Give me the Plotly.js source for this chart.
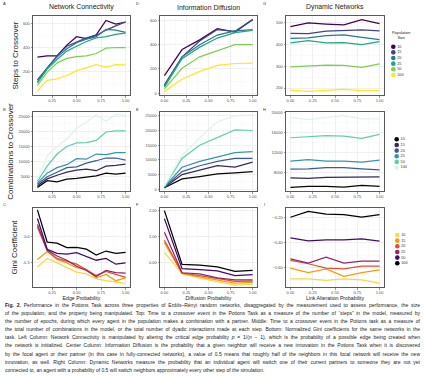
<!DOCTYPE html>
<html><head><meta charset="utf-8">
<script src="https://cdn.plot.ly/plotly-3.0.1.min.js"></script>
<style>
html,body{margin:0;padding:0;background:#fff;}
#chart{position:absolute;left:0;top:0;width:424px;height:377px;}
#caption{position:absolute;left:5px;top:301px;width:415px;font-family:"Liberation Sans",Arial,sans-serif;font-size:5px;line-height:8.1px;color:#222;}
#caption div{text-align:justify;text-align-last:justify;}
#caption div.last{text-align-last:left;}
</style></head><body>
<div id="chart"></div>
<div id="caption"></div>
<script>
// ---------- data ----------
const sizes = ['10','15','20','25','50','100'];
const edgeProb = [0.1,0.2,0.3,0.4,0.5,0.6,0.7,0.8,0.9,1.0];
const diffusionProb = [0,0.2,0.4,0.6,0.8,1.0];
const linkAlterProb = [0,0.2,0.4,0.6,0.8,1.0];

// Steps to crossover (rows: population size 10,15,20,25,50,100)
const stepsConnectivity = [
  [320,330,330,420,490,475,505,625,595,612],
  [130,235,330,410,445,480,500,545,580,612],
  [115,230,320,390,440,470,490,550,545,525],
  [105,220,300,370,410,450,480,490,510,520],
  [85,195,270,310,325,330,350,395,400,400],
  [38,126,140,167,208,236,258,236,258,255]
];
const stepsDiffusion = [
  [145,360,440,532,505,608],
  [68,300,430,525,510,605],
  [60,300,400,480,515,525],
  [50,285,380,455,500,518],
  [35,205,300,350,400,400],
  [15,115,180,230,245,248]
];
const stepsDynamic = [
  [483,500,495,491,515,497],
  [452,451,462,465,468,463],
  [429,431,442,445,434,423],
  [408,418,408,409,400,414],
  [298,303,306,305,295,311],
  [191,185,189,194,188,188]
];
// Combinations to crossover
const combosConnectivity = [
  [1500,3700,3300,4200,4500,5000,5300,6200,5900,6200],
  [2000,4300,5500,6500,7200,7500,7000,8500,8800,9200],
  [2500,5000,6500,8000,8300,9500,10300,11200,11200,10500],
  [3000,6200,8000,9000,11000,10800,12500,12300,13000,13000],
  [3500,8500,12500,15000,16200,16300,17000,19800,20200,20200],
  [4000,12000,15000,17500,21000,23000,25500,23300,25600,25300]
];
const combosDiffusion = [
  [500,3500,4300,5200,5600,6000],
  [600,5000,6500,8000,7500,9200],
  [700,6000,8000,9500,10500,10500],
  [800,7500,9500,11000,12500,12800],
  [900,10500,15000,17500,20200,20000],
  [1000,11500,17500,23000,25000,25200]
];
const combosDynamic = [
  [5070,5270,5270,5130,5470,5270],
  [6930,6870,7070,7130,7200,7130],
  [8670,8730,9000,9000,8730,8530],
  [10270,10600,10270,10270,10070,10470],
  [14930,15130,15330,15270,14800,15600],
  [19000,18530,19000,19330,18670,18670]
];
// Normalized Gini coefficient
const giniConnectivity = [
  [-0.585,-0.42,-0.505,-0.585,-0.68,-0.715,-0.81,-0.845,-0.875,-0.895],
  [-0.44,-0.29,-0.44,-0.505,-0.595,-0.63,-0.79,-0.725,-0.845,-0.79],
  [0.18,-0.275,-0.42,-0.47,-0.53,-0.635,-0.745,-0.67,-0.725,-0.78],
  [0.225,-0.26,-0.375,-0.455,-0.57,-0.65,-0.765,-0.65,-0.69,-0.70],
  [0.34,-0.245,-0.325,-0.34,-0.31,-0.39,-0.455,-0.42,-0.53,-0.505],
  [0.505,-0.11,-0.13,-0.215,-0.21,-0.245,-0.355,-0.28,-0.325,-0.305]
];
const giniDiffusion = [
  [0.39,-0.44,-0.61,-0.75,-0.88,-0.84],
  [0.76,-0.43,-0.56,-0.67,-0.80,-0.77],
  [0.85,-0.41,-0.51,-0.61,-0.73,-0.72],
  [1.16,-0.40,-0.44,-0.60,-0.67,-0.67],
  [1.69,-0.24,-0.28,-0.33,-0.51,-0.47],
  [2.0,-0.08,-0.11,-0.17,-0.35,-0.31]
];
const giniDynamic = [
  [-0.687,-0.687,-0.70,-0.687,-0.695,-0.721],
  [-0.603,-0.639,-0.608,-0.668,-0.639,-0.616],
  [-0.542,-0.568,-0.603,-0.608,-0.587,-0.587],
  [-0.529,-0.563,-0.516,-0.563,-0.547,-0.547],
  [-0.363,-0.387,-0.379,-0.379,-0.371,-0.389],
  [-0.20,-0.153,-0.176,-0.179,-0.20,-0.179]
];

const columnTitles = ['Network Connectivity','Information Diffusion','Dynamic Networks'];
const rowTitles = ['Steps to Crossover','Combinations to Crossover','Gini Coefficient'];
const xTitles = ['Edge Probability','Diffusion Probability','Link Alteration Probability'];
const panelLetters = [['A','D','G'],['B','E','H'],['C','F','I']];
const legendTitle = 'Population<br>Size';

const captionLines = [
 '<b>Fig. 2.</b> Performance in the Potions Task across three properties of Erdős–Rényi random networks, disaggregated by the measurement used to assess performance, the size',
 'of the population, and the property being manipulated. Top: Time to a crossover event in the Potions Task as a measure of the number of “steps” in the model, measured by',
 'the number of epochs, during which every agent in the population makes a combination with a partner. Middle: Time to a crossover event in the Potions task as a measure of',
 'the total number of combinations in the model, or the total number of dyadic interactions made at each step. Bottom: Normalized Gini coefficients for the same networks in the',
 'task. Left Column: Network Connectivity is manipulated by altering the critical edge probability <i>p</i> = 1/(<i>n</i> − 1), which is the probability of a possible edge being created when',
 'the network is initialized. Center Column: Information Diffusion is the probability that a given neighbor will receive a new innovation in the Potions Task when it is discovered',
 'by the focal agent or their partner (in this case in fully-connected networks), a value of 0.5 means that roughly half of the neighbors in this focal network will receive the new',
 'innovation, as well. Right Column: Dynamic Networks measure the probability that an individual agent will switch one of their current partners to someone they are not yet',
 'connected to, an agent with a probability of 0.5 will switch neighbors approximately every other step of the simulation.'
];

// ---------- palettes ----------
const viridis = ['#440154','#414487','#2A788E','#22A884','#7AD151','#FDE725'];
const mako = ['#0B0405','#382A54','#395D9C','#3497A9','#60CEAC','#DEF5E5'];
const infernoRev = ['#F6D746','#FB9B06','#DD513A','#932667','#420A68','#000004'];

// ---------- layout geometry (pixels) ----------
const W = 424, H = 377;
const px = x => x / W, py = y => 1 - y / H;
const cols = [[33,130],[160,257],[286,384]];
const rows = [[16,95],[112,191],[208,287]];
const FONT = '"Liberation Sans", Arial, sans-serif';

const panels = [
  {r:0,c:0,x:edgeProb,ys:stepsConnectivity,pal:viridis,yr:[5,662],dt:200,md:100},
  {r:0,c:1,x:diffusionProb,ys:stepsDiffusion,pal:viridis,yr:[-15,637],dt:200,md:100},
  {r:0,c:2,x:linkAlterProb,ys:stepsDynamic,pal:viridis,yr:[168,532],dt:100,md:50},
  {r:1,c:0,x:edgeProb,ys:combosConnectivity,pal:mako,yr:[300,26400],dt:5000,md:2500},
  {r:1,c:1,x:diffusionProb,ys:combosDiffusion,pal:mako,yr:[-600,26300],dt:5000,md:2500},
  {r:1,c:2,x:linkAlterProb,ys:combosDynamic,pal:mako,yr:[4340,20050],dt:4000,md:2000},
  {r:2,c:0,x:edgeProb,ys:giniConnectivity,pal:infernoRev,yr:[-0.965,0.54],tv:[-0.5,0],tt:['-0.5','0.0'],mv:[-0.75,-0.25,0.25]},
  {r:2,c:1,x:diffusionProb,ys:giniDiffusion,pal:infernoRev,yr:[-0.95,2.1],dt:1,md:0.5,fmt:'.2f'},
  {r:2,c:2,x:linkAlterProb,ys:giniDynamic,pal:infernoRev,yr:[-0.752,-0.127],dt:0.2,md:0.1,fmt:'.2f'}
];

const traces = [];
const layout = {
  width: W, height: H,
  margin: {l:0,r:0,t:0,b:0},
  paper_bgcolor: '#ffffff',
  plot_bgcolor: 'rgba(0,0,0,0)',
  showlegend: false,
  font: {family: FONT, color: '#222'},
  annotations: [],
  hovermode: false
};

const tickFont = {family: FONT, size: 4, color: '#4d4d4d'};
const common = {
  showline: true, mirror: true, linecolor: '#5a5a5a', linewidth: 1,
  ticks: 'outside', ticklen: 1.5, tickwidth: 0.5, tickcolor: '#333333',
  gridcolor: '#e6e6e6', gridwidth: 0.6, zeroline: false,
  tickfont: tickFont, automargin: false, fixedrange: true
};

panels.forEach((p, k) => {
  const idx = k + 1;
  const xs = idx === 1 ? '' : String(idx);
  const xr = p.c === 0 ? [0.055, 1.045] : [-0.05, 1.05];
  const xa = Object.assign({}, common, {
    domain: [px(cols[p.c][0]), px(cols[p.c][1])],
    anchor: 'y' + xs, range: xr,
    tick0: 0, dtick: 0.25, tickformat: '.2f',
    minor: {tick0: 0, dtick: 0.125, showgrid: true, gridcolor: '#f2f2f2', gridwidth: 0.4}
  });
  if (p.r === 2) xa.title = {text: xTitles[p.c], font: {family: FONT, size: 5.2, color: '#222'}, standoff: 1};
  const ya = Object.assign({}, common, {
    domain: [py(rows[p.r][1]), py(rows[p.r][0])],
    anchor: 'x' + xs, range: p.yr
  });
  if (p.tv) {
    ya.tickmode = 'array'; ya.tickvals = p.tv; ya.ticktext = p.tt;
    ya.minor = {tickmode: 'array', tickvals: p.mv, showgrid: true, gridcolor: '#f2f2f2', gridwidth: 0.4};
  } else {
    ya.tick0 = 0; ya.dtick = p.dt; ya.tickformat = p.fmt || 'd';
    ya.minor = {tick0: 0, dtick: p.md, showgrid: true, gridcolor: '#f2f2f2', gridwidth: 0.4};
  }
  if (p.c === 0) ya.title = {text: rowTitles[p.r], font: {family: FONT, size: 8, color: '#222'}, standoff: 3};
  layout['xaxis' + xs] = xa;
  layout['yaxis' + xs] = ya;

  p.ys.forEach((yv, i) => {
    traces.push({
      type: 'scatter', mode: 'lines', x: p.x, y: yv, name: sizes[i],
      xaxis: 'x' + xs, yaxis: 'y' + xs,
      line: {color: p.pal[i], width: 1.25}, showlegend: false, hoverinfo: 'skip'
    });
  });
});

// overlay pixel-space axes for the legends
layout.xaxis10 = {domain: [0,1], range: [0, W], visible: false, anchor: 'y10', fixedrange: true};
layout.yaxis10 = {domain: [0,1], range: [H, 0], visible: false, anchor: 'x10', fixedrange: true};
const legends = [
  {pal: viridis, cx: 393.3, y0: 46.7},
  {pal: mako, cx: 396.7, y0: 139.3},
  {pal: infernoRev, cx: 397.3, y0: 235}
];
const step = 5.65;
legends.forEach(L => {
  traces.push({
    type: 'scatter', mode: 'markers+text',
    x: sizes.map(() => L.cx), y: sizes.map((s, i) => L.y0 + i * step),
    text: sizes, textposition: 'middle right',
    textfont: {family: FONT, size: 3.8, color: '#333'},
    marker: {color: L.pal, size: 4.6, line: {width: 0}},
    xaxis: 'x10', yaxis: 'y10', cliponaxis: false, showlegend: false, hoverinfo: 'skip'
  });
});

// column titles
columnTitles.forEach((t, c) => {
  layout.annotations.push({text: t, xref: 'paper', yref: 'paper',
    x: px((cols[c][0] + cols[c][1]) / 2), y: py(7.5), xanchor: 'center', yanchor: 'middle',
    showarrow: false, font: {family: FONT, size: 6.9, color: '#222'}});
});
// panel letters
const letterX = [4, 137, 264], letterY = [4, 110, 205];
panelLetters.forEach((row, r) => row.forEach((L, c) => {
  layout.annotations.push({text: L, xref: 'paper', yref: 'paper',
    x: px(letterX[c]), y: py(letterY[r]), xanchor: 'center', yanchor: 'middle',
    showarrow: false, font: {family: FONT, size: 4, color: '#333'}});
}));
// legend title
layout.annotations.push({text: legendTitle, xref: 'paper', yref: 'paper',
  x: px(401), y: py(35.5), xanchor: 'center', yanchor: 'middle', align: 'center',
  showarrow: false, font: {family: FONT, size: 3.9, color: '#222'}});

Plotly.newPlot('chart', traces, layout, {staticPlot: true, displayModeBar: false});

// caption
const cap = document.getElementById('caption');
captionLines.forEach((t, i) => {
  const d = document.createElement('div');
  d.innerHTML = t;
  if (i === captionLines.length - 1) d.className = 'last';
  cap.appendChild(d);
});
</script></body></html>
